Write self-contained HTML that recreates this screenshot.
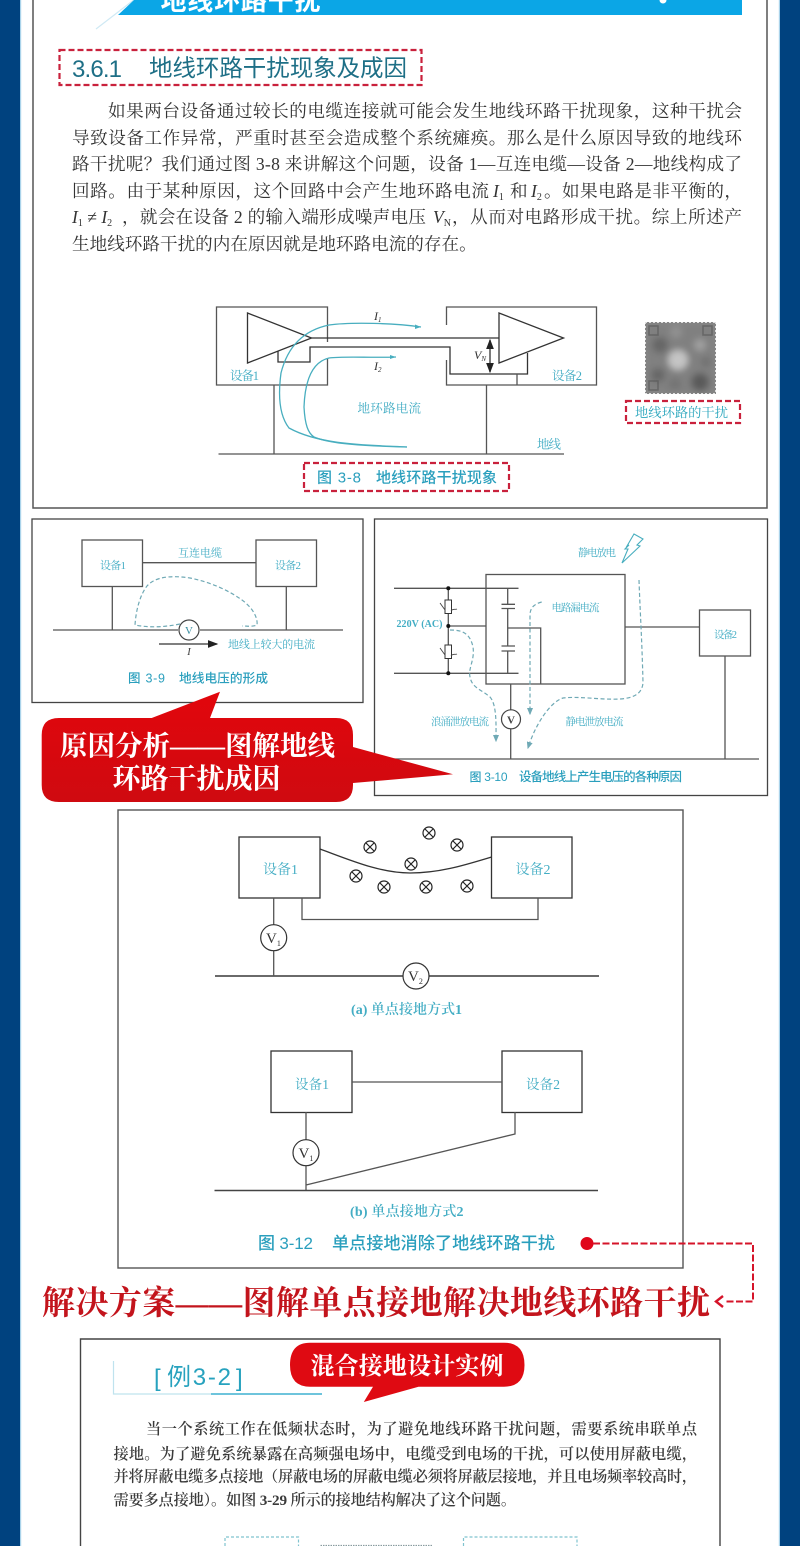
<!DOCTYPE html>
<html lang="zh-CN">
<head>
<meta charset="utf-8">
<title>地线环路干扰</title>
<style>
html,body{margin:0;padding:0;width:800px;height:1546px;overflow:hidden;background:#fff}
svg{display:block;filter:blur(.35px)}
.s{font-family:"Liberation Serif","Noto Serif CJK SC",serif}
.h{font-family:"Liberation Sans","Noto Sans CJK SC",sans-serif}
.p{font-size:17.6px;fill:#333}
.q{font-size:15.2px;fill:#3a3a3a;font-weight:600}
.t{fill:#43adc4}
.c{fill:#2a9fbd;font-weight:500}
.l{fill:none;stroke:#555;stroke-width:1.3}
.k{fill:none;stroke:#333;stroke-width:1.3}
.b{fill:none;stroke:#48aebf;stroke-width:1.3}
.d{fill:none;stroke:#6fa9b5;stroke-width:1.2;stroke-dasharray:4 2.5}
.r{fill:none;stroke:#c9213c;stroke-width:2.2;stroke-dasharray:6 3}
.i{font-style:italic}
.x{fill:#fff;stroke:#333;stroke-width:1.2}
</style>
</head>
<body>
<svg width="800" height="1546" viewBox="0 0 800 1546" xmlns="http://www.w3.org/2000/svg">
<defs>
<filter id="qb" x="-10%" y="-10%" width="120%" height="120%"><feGaussianBlur stdDeviation="3.5"/></filter>
<clipPath id="qc"><rect x="645" y="322" width="71" height="72"/></clipPath>
<marker id="ak" markerWidth="8" markerHeight="6" refX="7" refY="3" orient="auto-start-reverse"><path d="M0 0L8 3L0 6z" fill="#222"/></marker>
<marker id="ad" markerWidth="6" markerHeight="5" refX="5" refY="2.5" orient="auto"><path d="M0 0L6 2.5L0 5z" fill="#6fa9b5"/></marker>
<linearGradient id="rg" x1="0" y1="0" x2="0" y2="1"><stop offset="0" stop-color="#e2060c"/><stop offset="1" stop-color="#cf0a10"/></linearGradient>
</defs>

<rect width="800" height="1546" fill="#fff"/>
<rect x="0" y="0" width="20" height="1546" fill="#00427f"/>
<rect x="780" y="0" width="20" height="1546" fill="#00427f"/>
<rect x="20" y="0" width="1.2" height="1546" fill="#a9d3ea"/>
<rect x="778.8" y="0" width="1.2" height="1546" fill="#a9d3ea"/>

<!-- outer frame -->
<path d="M33 0V508H767V0" fill="none" stroke="#555" stroke-width="1.5"/>

<!-- header -->
<path d="M96 29L135 -1" stroke="#cfe9f4" stroke-width="1.2" fill="none"/>
<path d="M134 0H742V15H118z" fill="#0ba6e6"/>
<text class="h" x="160.5" y="10" font-size="26" font-weight="700" fill="#fff" textLength="160">地线环路干扰</text>
<circle cx="663" cy="0" r="3.5" fill="#fff"/>

<!-- section title -->
<rect x="59.5" y="50" width="362" height="35" class="r"/>
<text class="h" x="72" y="77" font-size="24" fill="#1e6f86" textLength="50">3.6.1</text>
<text class="h" x="149" y="76" font-size="23.5" fill="#1e6f86" textLength="258">地线环路干扰现象及成因</text>

<!-- paragraph -->
<g class="s p">
<text x="108" y="117" textLength="634">如果两台设备通过较长的电缆连接就可能会发生地线环路干扰现象&#xFF0C;这种干扰会</text>
<text x="72" y="144" textLength="670">导致设备工作异常&#xFF0C;严重时甚至会造成整个系统瘫痪。那么是什么原因导致的地线环</text>
<text x="72" y="170" textLength="670">路干扰呢&#xFF1F;我们通过图 3-8 来讲解这个问题&#xFF0C;设备 1—互连电缆—设备 2—地线构成了</text>
<text x="72" y="197" textLength="417">回路。由于某种原因&#xFF0C;这个回路中会产生地环路电流</text>
<text x="493" y="197"><tspan class="i">I</tspan><tspan font-size="10" dy="3">1</tspan></text>
<text x="510" y="197">和</text>
<text x="531" y="197"><tspan class="i">I</tspan><tspan font-size="10" dy="3">2</tspan></text>
<text x="544" y="197" textLength="198">。如果电路是非平衡的&#xFF0C;</text>
<text x="72" y="223"><tspan class="i">I</tspan><tspan font-size="10" dy="3">1</tspan><tspan dy="-3"> ≠ </tspan><tspan class="i">I</tspan><tspan font-size="10" dy="3">2</tspan></text>
<text x="122" y="223" textLength="304">&#xFF0C;就会在设备 2 的输入端形成噪声电压</text>
<text x="433" y="223"><tspan class="i">V</tspan><tspan font-size="10" dy="3">N</tspan></text>
<text x="452" y="223" textLength="290">&#xFF0C;从而对电路形成干扰。综上所述产</text>
<text x="72" y="250">生地线环路干扰的内在原因就是地环路电流的存在。</text>
</g>

<!-- fig 3-8 -->
<path class="l" d="M327.5 342V307H216.5V385H327.5V358"/>
<path class="l" d="M446.5 325V307H596.5V385H446.5V360"/>
<path class="k" d="M247.5 313L311.5 338L247.5 363z"/>
<path class="k" d="M499 313L563.5 338L499 363z"/>
<path class="k" d="M311.5 338H499"/>
<path class="k" d="M278 351V362H310V347H450V374H527.5V353"/>
<path class="l" d="M517 374V385"/>
<path class="k" d="M490 340V372" marker-start="url(#ak)" marker-end="url(#ak)" stroke-width="1.1"/>
<path class="l" d="M218.5 454H564M274 385V454M486.5 385V454"/>
<path class="b" d="M421 327C395 323 350 322 329 325C305 330 288 345 281 373C278 395 279 415 289 428C320 445 365 445 407 447"/>
<path d="M415 324.5L421 327L415 329z" fill="#48aebf"/>
<path class="b" d="M396 357C370 358 345 356 329 358C312 362 305 380 304 407C305 425 308 433 314 437C330 444 365 446 407 447"/>
<path d="M390 355L396 357L390 359z" fill="#48aebf"/>
<text class="s i" x="374" y="320" font-size="12" fill="#333">I<tspan font-size="7" dy="2">1</tspan></text>
<text class="s i" x="374" y="370" font-size="12" fill="#333">I<tspan font-size="7" dy="2">2</tspan></text>
<text class="s i" x="474" y="359" font-size="12" fill="#333">V<tspan font-size="7" dy="2">N</tspan></text>
<g class="s t" font-size="12.5">
<text x="230" y="380" textLength="29">设备1</text>
<text x="552" y="380" textLength="30">设备2</text>
<text x="357.5" y="412.5" textLength="63.5">地环路电流</text>
<text x="537" y="448.5" textLength="24">地线</text>
</g>
<rect x="304" y="463" width="205" height="28" class="r"/>
<text class="h c" x="317" y="482.5" font-size="15" textLength="44">图 3-8</text>
<text class="h c" x="376" y="482.5" font-size="15" textLength="121">地线环路干扰现象</text>

<!-- QR -->
<g clip-path="url(#qc)">
<rect x="645" y="322" width="71" height="72" fill="#8a8a8a"/>
<g filter="url(#qb)">
<rect x="645" y="322" width="71" height="72" fill="#808080"/>
<circle cx="678" cy="360" r="10" fill="#c4c4c4"/>
<circle cx="660" cy="345" r="8" fill="#666"/>
<circle cx="700" cy="345" r="6" fill="#a0a0a0"/>
<circle cx="700" cy="382" r="9" fill="#5a5a5a"/>
<circle cx="658" cy="375" r="7" fill="#666"/>
<circle cx="675" cy="384" r="6" fill="#737373"/>
<circle cx="706" cy="362" r="5" fill="#707070"/>
<circle cx="676" cy="332" r="6" fill="#929292"/>
</g>
<path d="M649 326h9v9h-9zM703 326h9v9h-9zM649 381h9v9h-9z" fill="none" stroke="#555" stroke-width="1.5" opacity=".6"/>
</g>
<path d="M645 322V394M716 322V394M645 322H716M645 394H716" fill="none" stroke="#fff" stroke-width="2" stroke-dasharray="2 2" opacity=".75"/>
<rect x="626" y="401" width="114" height="22" class="r" stroke-width="1.8"/>
<text class="s" x="635" y="417" font-size="13.3" fill="#2aa6bd" textLength="93">地线环路的干扰</text>

<!-- fig 3-9 panel -->
<rect x="32" y="519" width="331" height="183.5" fill="#fff" stroke="#444" stroke-width="1.3"/>
<rect x="82" y="540" width="60.5" height="46.5" class="l"/>
<rect x="256" y="540" width="60.5" height="46.5" class="l"/>
<path class="l" d="M143 562.7H256M53 630H178M200 630H343M112.3 587V630M286.3 587V630"/>
<circle cx="189" cy="630" r="10" fill="#fff" stroke="#444" stroke-width="1.2"/>
<text class="s" x="189" y="634" font-size="11" fill="#3a8ea0" text-anchor="middle">V</text>
<path class="d" d="M180 624C165 627 150 628 135 625C136 610 140 595 147 586C155 577 170 575 190 578C210 582 228 590 242 600C253 608 258 618 257 625C252 627 248 626 242 626"/>
<path class="k" d="M159 644H217" stroke-width="1" marker-end="url(#ak)"/>
<text class="s i" x="189" y="655" font-size="11" fill="#444" text-anchor="middle">I</text>
<g class="s t" font-size="11">
<text x="178" y="556.5" textLength="44">互连电缆</text>
<text x="100" y="569" textLength="26">设备1</text>
<text x="275" y="569" textLength="26">设备2</text>
<text x="228" y="648" textLength="87">地线上较大的电流</text>
</g>
<text class="h c" x="128" y="682.5" font-size="12.5" textLength="37">图 3-9</text>
<text class="h c" x="179" y="682.5" font-size="12.7" textLength="89">地线电压的形成</text>

<!-- fig 3-10 panel -->
<rect x="374.5" y="519" width="393" height="276.5" fill="#fff" stroke="#444" stroke-width="1.3"/>
<rect x="486" y="574.5" width="139" height="109.5" class="l"/>
<path class="l" d="M394 588.3H518.5M394 673.3H518.5M448.3 588V673M448.3 626H486"/>
<path class="l" d="M507.7 588V604M507.7 608.5V646M507.7 651V673M501.5 604.3H515M501.5 608.5H515M501.5 646H515M501.5 651H515M507.7 628H540.7V684"/>
<circle cx="448.3" cy="588.3" r="2" fill="#111"/><circle cx="448.3" cy="626" r="2" fill="#111"/><circle cx="448.3" cy="673.3" r="2" fill="#111"/>
<rect x="445" y="600" width="6.5" height="13.5" fill="#fff" stroke="#333" stroke-width="1"/>
<rect x="445" y="645" width="6.5" height="13.5" fill="#fff" stroke="#333" stroke-width="1"/>
<path d="M440 603L445 610M451 611C453 608 455 610 457 609M440 648L445 655M451 656C453 653 455 655 457 654" fill="none" stroke="#444" stroke-width=".9"/>
<path class="l" d="M625 627H699.5"/>
<rect x="699.5" y="610" width="51" height="46" class="l"/>
<path class="l" d="M394 759H759M725 656V759M510.7 684V759"/>
<circle cx="511" cy="719.3" r="9.5" fill="#fff" stroke="#444" stroke-width="1.2"/>
<text class="s" x="511" y="723.5" font-size="11" font-weight="700" fill="#444" text-anchor="middle">V</text>
<path d="M634 534L643 539L637 545L640 546L622 563L628 549L625 549L629 545L627 546z" fill="#fff" stroke="#48aebf" stroke-width="1.1"/>
<path class="d" d="M450 630C462 630 470 633 473 647C475 660 468 668 470 677C472 688 482 690 490 697C497 705 496 725 496 741" marker-end="url(#ad)"/>
<path class="d" d="M541.7 602C534 604 530 608 530 615V714" marker-end="url(#ad)"/>
<path class="d" d="M639 580C640 610 642 640 643 683C642 693 635 698 620 699C600 700 580 696 563 698C550 702 535 725 528 748" marker-end="url(#ad)"/>
<g class="s t" font-size="10.5">
<text x="578" y="556" textLength="38">静电放电</text>
<text x="551.5" y="611" textLength="48">电路漏电流</text>
<text x="431" y="725" textLength="58">浪涌泄放电流</text>
<text x="565.5" y="725" textLength="58">静电泄放电流</text>
<text x="714" y="638" textLength="23">设备2</text>
<text x="396.5" y="627" textLength="46" font-weight="700" font-size="10">220V (AC)</text>
</g>
<text class="h c" x="469.5" y="781" font-size="12" textLength="38">图 3-10</text>
<text class="h c" x="519" y="781" font-size="12.5" textLength="163">设备地线上产生电压的各种原因</text>

<!-- red callout -->
<path d="M59 718H151.7L220 691.7L210 718H336Q353 718 353 735V747L453 774.3L353 783V785Q353 802 336 802H59Q41.7 802 41.7 785V735Q41.7 718 59 718z" fill="url(#rg)"/>
<g class="s" fill="#fff" font-weight="700">
<text x="60" y="755" font-size="27.5" textLength="275">原因分析——图解地线</text>
<text x="112.5" y="788" font-size="28" textLength="168">环路干扰成因</text>
</g>

<!-- fig 3-12 panel -->
<rect x="118" y="810" width="565" height="458" fill="none" stroke="#555" stroke-width="1.4"/>
<rect x="239" y="837" width="81" height="61" class="k"/>
<rect x="491.5" y="837" width="80.5" height="61" class="k"/>
<path class="k" d="M320 849C350 860 380 873 410 873C440 873 465 865 491.5 857" stroke-width="1.2"/>
<path class="l" d="M302 898V919.5H538V898M273.7 898V976"/>
<path d="M215 976H599" stroke="#555" stroke-width="1.7" fill="none"/>
<circle cx="273.7" cy="937.7" r="13" class="x"/>
<circle cx="416" cy="976" r="13" class="x"/>
<text class="s" x="266" y="943" font-size="15" fill="#333">V<tspan font-size="8" dy="3">1</tspan></text>
<text class="s" x="408" y="981" font-size="15" fill="#333">V<tspan font-size="8" dy="3">2</tspan></text>
<g fill="none" stroke="#222" stroke-width="1.2">
<circle cx="429" cy="833" r="6"/><path d="M425 829l8 8m0-8l-8 8"/>
<circle cx="370" cy="847" r="6"/><path d="M366 843l8 8m0-8l-8 8"/>
<circle cx="457" cy="845" r="6"/><path d="M453 841l8 8m0-8l-8 8"/>
<circle cx="411" cy="864" r="6"/><path d="M407 860l8 8m0-8l-8 8"/>
<circle cx="356" cy="876" r="6"/><path d="M352 872l8 8m0-8l-8 8"/>
<circle cx="384" cy="887" r="6"/><path d="M380 883l8 8m0-8l-8 8"/>
<circle cx="426" cy="887" r="6"/><path d="M422 883l8 8m0-8l-8 8"/>
<circle cx="467" cy="886" r="6"/><path d="M463 882l8 8m0-8l-8 8"/>
</g>
<g class="s t" font-size="14">
<text x="263" y="874" textLength="35">设备1</text>
<text x="515.5" y="874" textLength="35">设备2</text>
</g>
<text class="s t" x="351" y="1014" font-size="14" textLength="111" font-weight="600">(a) 单点接地方式1</text>

<rect x="271" y="1051" width="81" height="61.5" class="k"/>
<rect x="502" y="1051" width="80" height="61.5" class="k"/>
<path class="l" d="M352 1082H502M306 1112V1190M515 1112V1134L306 1185"/>
<path d="M214.5 1190.5H598" stroke="#444" stroke-width="1.6" fill="none"/>
<circle cx="306" cy="1152.7" r="13" class="x"/>
<text class="s" x="298.5" y="1158" font-size="15" fill="#333">V<tspan font-size="8" dy="3">1</tspan></text>
<g class="s t" font-size="13.5">
<text x="295" y="1089" textLength="34">设备1</text>
<text x="526" y="1089" textLength="34">设备2</text>
</g>
<text class="s t" x="350" y="1216" font-size="14" textLength="113.5" font-weight="600">(b) 单点接地方式2</text>
<text class="h c" x="258" y="1249" font-size="17" textLength="55">图 3-12</text>
<text class="h c" x="332" y="1249" font-size="17.1" textLength="223">单点接地消除了地线环路干扰</text>
<circle cx="587" cy="1243.5" r="6.5" fill="#e0061a"/>
<path d="M593 1243.5H753V1301.5H726" fill="none" stroke="#d5142a" stroke-width="2" stroke-dasharray="7 2.5"/>
<path d="M723 1296L716 1301.5L723 1307" fill="none" stroke="#d5142a" stroke-width="2.4"/>
<text class="s" x="42" y="1314" font-size="33" font-weight="700" fill="#c3141c" textLength="668">解决方案——图解单点接地解决地线环路干扰</text>

<!-- bottom frame -->
<path d="M80.5 1546V1339H720V1546" fill="none" stroke="#444" stroke-width="1.4"/>
<path d="M113.5 1361V1394H211" fill="none" stroke="#bfe3ee" stroke-width="1.2"/>
<path d="M211 1394H322" fill="none" stroke="#3fb0d0" stroke-width="1.6"/>
<g class="h" fill="#27a2be">
<text x="154" y="1386" font-size="24">[</text>
<text x="167" y="1385" font-size="24" textLength="64">例3-2</text>
<text x="236" y="1386" font-size="24">]</text>
</g>
<path d="M310 1342.7H504Q524.5 1342.7 524.5 1365Q524.5 1386.7 504 1386.7H418.5L363.8 1402L373 1386.7H310Q290 1386.7 290 1365Q290 1342.7 310 1342.7z" fill="#df0a12"/>
<text class="s" x="310.5" y="1374" font-size="24" font-weight="700" fill="#fff" textLength="193">混合接地设计实例</text>
<g class="s q">
<text x="146" y="1434" textLength="551">当一个系统工作在低频状态时&#xFF0C;为了避免地线环路干扰问题&#xFF0C;需要系统串联单点</text>
<text x="113.5" y="1459" textLength="583.5">接地。为了避免系统暴露在高频强电场中&#xFF0C;电缆受到电场的干扰&#xFF0C;可以使用屏蔽电缆&#xFF0C;</text>
<text x="113.5" y="1481.5" textLength="583.5">并将屏蔽电缆多点接地&#xFF08;屏蔽电场的屏蔽电缆必须将屏蔽层接地&#xFF0C;并且电场频率较高时&#xFF0C;</text>
<text x="113.5" y="1505" textLength="402.5">需要多点接地&#xFF09;。如图 3-29 所示的接地结构解决了这个问题。</text>
</g>
<path d="M225 1546V1537H298.5V1546M463.5 1546V1537H577V1546" fill="none" stroke="#7fc3cf" stroke-width="1.2" stroke-dasharray="3 2"/>
<path d="M320.5 1545.5H432" fill="none" stroke="#8a9ca0" stroke-width="1.2" stroke-dasharray="1.5 1"/>
</svg>
</body>
</html>
